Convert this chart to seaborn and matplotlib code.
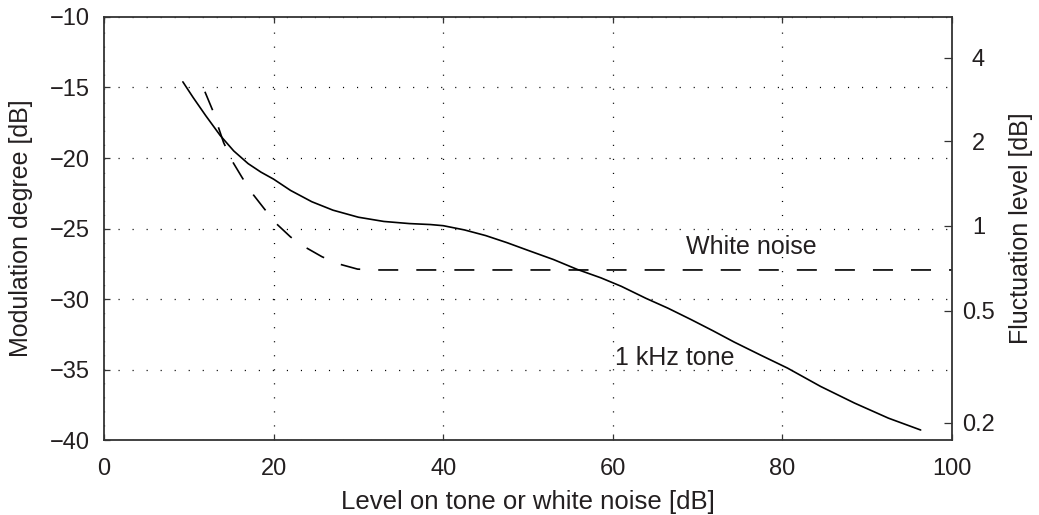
import numpy as np
import matplotlib
matplotlib.use("Agg")
import matplotlib.pyplot as plt
import seaborn as sns

# Modulation degree versus level for a 1 kHz tone and for white noise
tone_level = [9.3, 10.5, 12.0, 13.7, 15.3, 17.0, 18.5, 20.0, 22.0, 24.5,
              27.0, 30.0, 33.0, 36.0, 38.5, 40.0, 42.5, 45.0, 47.5, 50.0,
              53.0, 55.8, 58.6, 61.0, 63.9, 66.5, 69.2, 71.8, 74.3, 77.5,
              80.6, 84.5, 88.5, 92.5, 96.3]
tone_mod = [-14.6, -15.7, -17.0, -18.4, -19.5, -20.4, -21.0, -21.5, -22.3,
            -23.1, -23.7, -24.2, -24.5, -24.65, -24.72, -24.8, -25.1, -25.5,
            -26.0, -26.55, -27.2, -27.9, -28.5, -29.1, -29.95, -30.65,
            -31.45, -32.25, -33.05, -34.0, -34.9, -36.2, -37.38, -38.45,
            -39.29]

noise_level = [11.9, 12.8, 14.1, 15.2, 16.3, 17.6, 18.9, 20.4, 22.0, 23.8,
               25.7, 27.6, 29.9, 32.0, 100.0]
noise_mod = [-15.3, -16.6, -18.9, -20.3, -21.4, -22.6, -23.6, -24.7, -25.6,
             -26.35, -27.0, -27.5, -27.88, -27.94, -27.94]

x_ticks = [0, 20, 40, 60, 80, 100]
y_ticks = [-40, -35, -30, -25, -20, -15, -10]
fluct_ticks = [0.2, 0.5, 1, 2, 4]
fluct_labels = ["0.2", "0.5", "1", "2", "4"]

sns.set_style("ticks")
plt.rcParams["font.family"] = ["Liberation Sans", "DejaVu Sans"]
plt.rcParams["lines.scale_dashes"] = False
text_color = "#231f20"

fig = plt.figure(figsize=(10.39, 5.15), dpi=100)
ax = fig.add_axes([0.1001, 0.1456, 0.8162, 0.8214])

sns.lineplot(x=tone_level, y=tone_mod, ax=ax, color="black", lw=1.2,
             sort=False, estimator=None)
sns.lineplot(x=noise_level, y=noise_mod, ax=ax, color="black", lw=1.2,
             sort=False, estimator=None)
ax.lines[-1].set_dashes([14.4, 13.0])

ax.set_xlim(0, 100)
ax.set_ylim(-40, -10)
ax.set_xticks(x_ticks)
ax.set_yticks(y_ticks)
ax.set_yticklabels([f"\u2212{abs(v)}" for v in y_ticks])

ax.grid(True, color="black", lw=0.9, dashes=[0.8, 9.3])

for side in ["left", "right", "top", "bottom"]:
    ax.spines[side].set_visible(True)
    ax.spines[side].set_color("#333333")
    ax.spines[side].set_linewidth(1.3)

ax.tick_params(axis="x", direction="in", length=4.5, width=0.9, top=True,
               labelsize=17, colors="#333333", labelcolor=text_color, pad=13)
ax.tick_params(axis="y", direction="in", length=4.5, width=0.9, right=False,
               labelsize=17, colors="#333333", labelcolor=text_color, pad=10)

ax.set_xlabel("Level on tone or white noise [dB]", fontsize=18.5,
              color=text_color, labelpad=7)
ax.set_ylabel("Modulation degree [dB]", fontsize=18, color=text_color,
              labelpad=12)


# Fluctuation level (dB) corresponding to a modulation degree in dB
def mod_to_fluct(d):
    m = 10 ** (np.asarray(d, dtype=float) / 20.0)
    m = np.clip(m, 1e-9, 0.999999)
    return 20 * np.log10((1 + m) / (1 - m))


def fluct_to_mod(f):
    r = 10 ** (np.clip(np.asarray(f, dtype=float), 1e-9, None) / 20.0)
    m = (r - 1) / (r + 1)
    return 20 * np.log10(m)


sec = ax.secondary_yaxis("right", functions=(mod_to_fluct, fluct_to_mod))
sec.set_yticks(fluct_ticks)
sec.set_yticklabels(fluct_labels, ha="center")
sec.tick_params(direction="in", length=5.5, width=0.9, labelsize=17,
                colors="#333333", labelcolor=text_color, pad=19)
sec.spines["right"].set_visible(False)
sec.set_ylabel("Fluctuation level [dB]", fontsize=18, color=text_color,
               labelpad=10)

ax.text(68.6, -26.3, "White noise", fontsize=18, color=text_color,
        va="center", ha="left")
ax.text(60.3, -34.2, "1 kHz tone", fontsize=18, color=text_color,
        va="center", ha="left")

fig.savefig("out.png", dpi=100)
